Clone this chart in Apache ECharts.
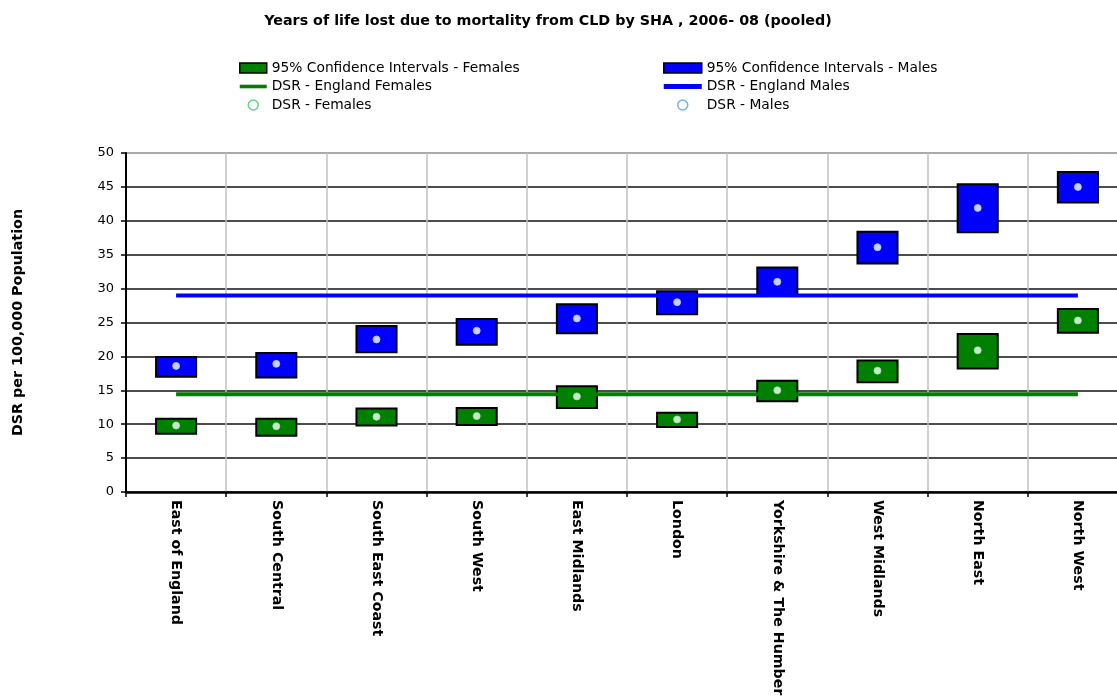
<!DOCTYPE html>
<html>
<head>
<meta charset="utf-8">
<script src="https://cdn.jsdelivr.net/npm/echarts@6/dist/echarts.min.js"></script>
<style>
  html, body { margin: 0; padding: 0; background: #fff; }
  #chart { width: 1117px; height: 699px; }
</style>
</head>
<body>
<div id="chart"></div>
<script>
// Strategic Health Authorities
const categories = ['East of England', 'South Central', 'South East Coast', 'South West', 'East Midlands',
  'London', 'Yorkshire & The Humber', 'West Midlands', 'North East', 'North West'];

// Females: 95% CI bounds and directly standardised rate
const femaleLow  = [8.6, 8.3, 9.8, 9.9, 12.4, 9.6, 13.4, 16.2, 18.2, 23.5];
const femaleHigh = [10.8, 10.8, 12.3, 12.4, 15.6, 11.7, 16.4, 19.4, 23.3, 27.0];
const femaleDsr  = [9.8, 9.7, 11.1, 11.2, 14.1, 10.7, 15.0, 17.9, 20.9, 25.3];

// Males: 95% CI bounds and directly standardised rate
const maleLow  = [17.0, 16.9, 20.6, 21.7, 23.4, 26.2, 28.9, 33.7, 38.3, 42.7];
const maleHigh = [19.9, 20.5, 24.5, 25.5, 27.7, 29.6, 33.1, 38.4, 45.4, 47.2];
const maleDsr  = [18.6, 18.9, 22.5, 23.8, 25.6, 28.0, 31.0, 36.1, 41.9, 45.0];

// England reference rates
const englandFemale = [14.4, 14.4, 14.4, 14.4, 14.4, 14.4, 14.4, 14.4, 14.4, 14.4];
const englandMale   = [29.0, 29.0, 29.0, 29.0, 29.0, 29.0, 29.0, 29.0, 29.0, 29.0];

// Y axis ticks
const yTicks = [0, 5, 10, 15, 20, 25, 30, 35, 40, 45, 50];

const GREEN = '#008000';
const BLUE = '#0000ff';
const LINE_ICON = 'path://M0,0H30V4H0Z';

function ciBox(low, high) {
  return low.map((v, i) => [i, v, high[i]]);
}

function renderBox(params, api) {
  const i = api.value(0);
  const top = api.coord([i, api.value(2)]);
  const bottom = api.coord([i, api.value(1)]);
  const band = api.size([1, 0])[0];
  const w = band * 0.4;
  return {
    type: 'rect',
    shape: { x: top[0] - w / 2, y: top[1], width: w, height: bottom[1] - top[1] },
    style: api.style({ stroke: '#000', lineWidth: 2 })
  };
}

const chart = echarts.init(document.getElementById('chart'), null, { renderer: 'canvas' });

const legendText = { fontFamily: 'DejaVu Sans', fontSize: 13.8, color: '#000', lineHeight: 14 };

chart.setOption({
  animation: false,
  backgroundColor: '#fff',
  title: {
    text: 'Years of life lost due to mortality from CLD by SHA , 2006- 08 (pooled)',
    left: 543,
    textAlign: 'center',
    top: 9,
    textStyle: { fontFamily: 'DejaVu Sans', fontWeight: 'bold', fontSize: 14.3, color: '#000' }
  },
  legend: [
    {
      orient: 'vertical', left: 239, top: 61, padding: 0, itemWidth: 27, itemHeight: 10, itemGap: 4.5,
      textStyle: legendText,
      data: [
        { name: '95% Confidence Intervals - Females', icon: 'rect', itemStyle: { color: GREEN, borderColor: '#000', borderWidth: 1.5 } },
        { name: 'DSR - England Females', icon: LINE_ICON, itemStyle: { color: GREEN, borderWidth: 0 } },
        { name: 'DSR - Females', icon: 'circle', itemStyle: { color: '#fff', borderColor: '#33cc66', borderWidth: 1.5 } }
      ]
    },
    {
      orient: 'vertical', left: 663, top: 61, padding: 0, itemWidth: 38, itemHeight: 10, itemGap: 4.5,
      textStyle: legendText,
      data: [
        { name: '95% Confidence Intervals - Males', icon: 'rect', itemStyle: { color: BLUE, borderColor: '#000', borderWidth: 1.5 } },
        { name: 'DSR - England Males', icon: LINE_ICON, itemStyle: { color: BLUE, borderWidth: 0 } },
        { name: 'DSR - Males', icon: 'circle', itemStyle: { color: '#fff', borderColor: '#4aa0e0', borderWidth: 1.5 } }
      ]
    }
  ],
  grid: { left: 126, top: 153, width: 1002, height: 339, containLabel: false, outerBoundsMode: 'none' },
  xAxis: {
    type: 'category',
    data: categories,
    boundaryGap: true,
    axisLine: { lineStyle: { color: '#000', width: 2.5 } },
    axisTick: { show: true, length: 5, lineStyle: { color: '#000', width: 1.5 } },
    splitLine: { show: true, lineStyle: { color: '#c0c0c0', width: 1.5 } },
    axisLabel: {
      rotate: -90, margin: 8, interval: 0,
      fontFamily: 'DejaVu Sans', fontWeight: 'bold', fontSize: 14.2, color: '#000'
    }
  },
  yAxis: {
    type: 'value',
    min: yTicks[0], max: yTicks[yTicks.length - 1], interval: 5,
    name: 'DSR per 100,000 Population',
    nameLocation: 'middle', nameRotate: 90, nameGap: 101,
    nameTextStyle: { fontFamily: 'DejaVu Sans', fontWeight: 'bold', fontSize: 14.3, color: '#000' },
    axisLine: { show: true, lineStyle: { color: '#000', width: 2 } },
    axisTick: { show: true, length: 5, lineStyle: { color: '#000', width: 1.5 } },
    axisLabel: { margin: 12, fontFamily: 'DejaVu Sans', fontSize: 13, color: '#000' },
    splitLine: {
      show: true,
      lineStyle: {
        width: 1.5,
        color: ['#111', '#111', '#111', '#111', '#111', '#111', '#111', '#111', '#111', '#111', '#8c8c8c']
      }
    }
  },
  series: [
    {
      name: '95% Confidence Intervals - Females', type: 'custom', renderItem: renderBox,
      itemStyle: { color: GREEN }, encode: { x: 0, y: [1, 2] }, z: 2,
      data: ciBox(femaleLow, femaleHigh)
    },
    {
      name: '95% Confidence Intervals - Males', type: 'custom', renderItem: renderBox,
      itemStyle: { color: BLUE }, encode: { x: 0, y: [1, 2] }, z: 2,
      data: ciBox(maleLow, maleHigh)
    },
    {
      name: 'DSR - England Females', type: 'line', data: englandFemale, symbol: 'none', z: 3,
      lineStyle: { color: GREEN, width: 4 }, itemStyle: { color: GREEN }
    },
    {
      name: 'DSR - England Males', type: 'line', data: englandMale, symbol: 'none', z: 3,
      lineStyle: { color: BLUE, width: 4 }, itemStyle: { color: BLUE }
    },
    {
      name: 'DSR - Females', type: 'scatter', data: femaleDsr, symbol: 'circle', symbolSize: 7, z: 4,
      itemStyle: { color: '#fff', borderColor: '#9fe6b5', borderWidth: 1 }
    },
    {
      name: 'DSR - Males', type: 'scatter', data: maleDsr, symbol: 'circle', symbolSize: 7, z: 4,
      itemStyle: { color: '#fff', borderColor: '#a8c8ff', borderWidth: 1 }
    }
  ]
});
</script>
</body>
</html>
